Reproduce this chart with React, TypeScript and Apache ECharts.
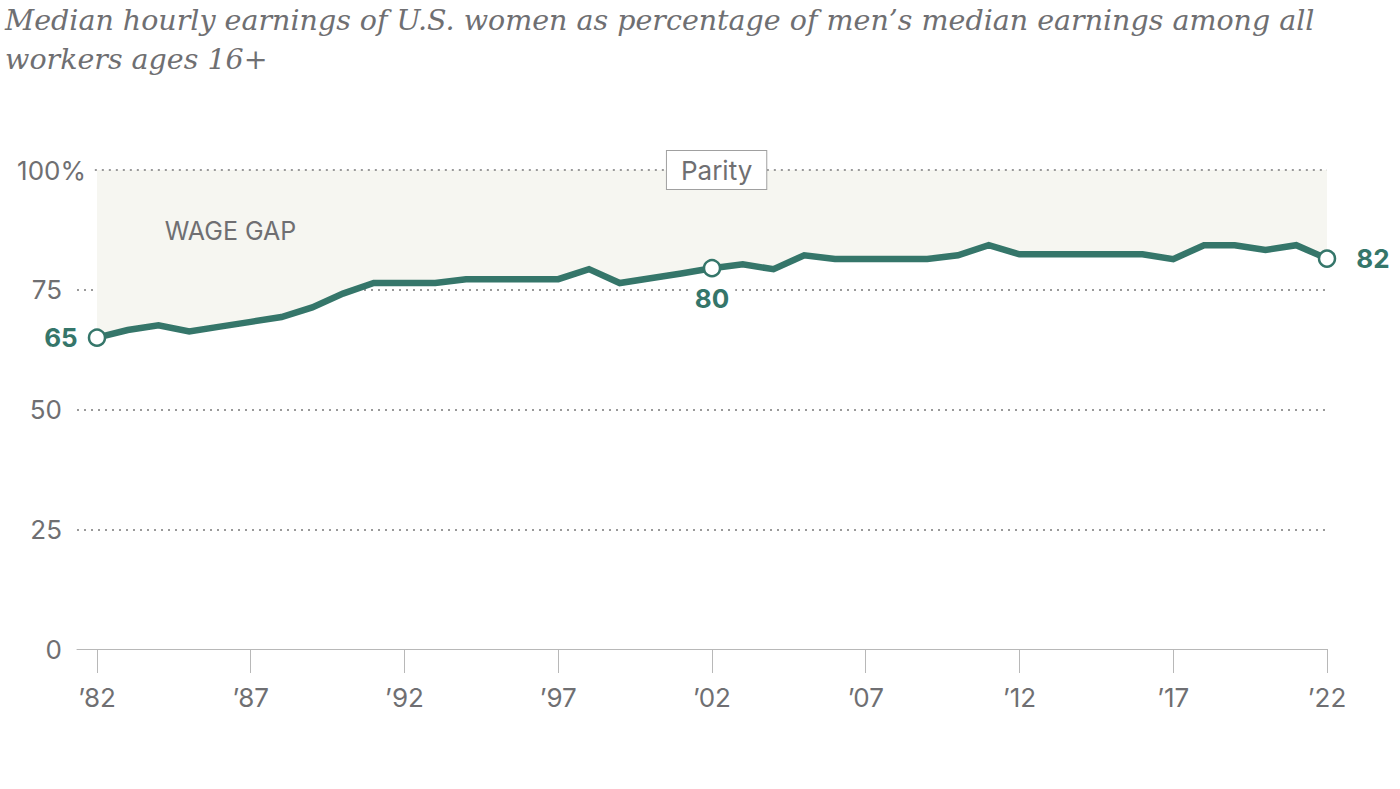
import React, { useEffect, useRef } from "react";
import * as echarts from "echarts";

const years = [
  1982, 1983, 1984, 1985, 1986, 1987, 1988, 1989, 1990, 1991, 1992, 1993, 1994, 1995,
  1996, 1997, 1998, 1999, 2000, 2001, 2002, 2003, 2004, 2005, 2006, 2007, 2008, 2009,
  2010, 2011, 2012, 2013, 2014, 2015, 2016, 2017, 2018, 2019, 2020, 2021, 2022,
];
const earningsRatio = [
  65, 66.6, 67.6, 66.3, 67.3, 68.3, 69.3, 71.3, 74.2, 76.4, 76.4, 76.4, 77.2, 77.2,
  77.2, 77.2, 79.3, 76.4, 77.4, 78.4, 79.5, 80.3, 79.3, 82.2, 81.4, 81.4, 81.4, 81.4,
  82.2, 84.3, 82.4, 82.4, 82.4, 82.4, 82.4, 81.4, 84.3, 84.3, 83.3, 84.3, 81.5,
];
const xTickYears = [1982, 1987, 1992, 1997, 2002, 2007, 2012, 2017, 2022];
const labeledYears = [1982, 2002, 2022];
const labelPositions = ["left", "bottom", "right"];
const parityValue = 100;
const titleLines = [
  "Median hourly earnings of U.S. women as percentage of men’s median earnings among all",
  "workers ages 16+",
];
const parityLabel = "Parity";
const gapLabel = "WAGE GAP";

const GREEN = "#35766a";
const GRAY_TEXT = "#6f6f72";
const DOT = "#9a9a9a";
const FONT = "Inter, Roboto, sans-serif";

export default function App() {
  const ref = useRef<HTMLDivElement>(null);
  useEffect(() => {
    if (!ref.current) return;
    const chart = echarts.init(ref.current, null, { renderer: "svg" });

    const lineData = years.map((y, i) => {
      const li = labeledYears.indexOf(y);
      if (li < 0) return [y, earningsRatio[i]];
      return {
        value: [y, earningsRatio[i]],
        symbol: "circle",
        symbolSize: 16,
        itemStyle: { color: "#fff", borderColor: GREEN, borderWidth: 2.5 },
        label: {
          show: true,
          position: labelPositions[li],
          distance: li === 2 ? 20 : li === 1 ? 8 : 10,
          formatter: () => String(Math.round(earningsRatio[i])),
          fontFamily: FONT,
          fontWeight: "bold",
          fontSize: 26,
          color: GREEN,
          backgroundColor: li === 1 ? "#fff" : "transparent",
          padding: li === 1 ? [0, 6] : 0,
        },
      };
    });

    chart.setOption({
      animation: false,
      grid: { left: 77, right: 73, top: 170, bottom: 140, containLabel: false },
      xAxis: {
        type: "value",
        min: 1981.35,
        max: 2022,
        splitLine: { show: false },
        axisLine: { show: true, lineStyle: { color: "#b8b8b8", width: 1 } },
        axisTick: {
          show: true,
          customValues: xTickYears,
          length: 24,
          lineStyle: { color: "#b8b8b8", width: 1 },
        },
        axisLabel: {
          customValues: xTickYears,
          formatter: (v: number) => "’" + String(v).slice(2),
          margin: 35,
          fontFamily: FONT,
          fontSize: 26,
          color: GRAY_TEXT,
        },
      },
      yAxis: {
        type: "value",
        min: 0,
        max: 100,
        interval: 25,
        axisLine: { show: false },
        axisTick: { show: false },
        splitLine: {
          show: true,
          lineStyle: {
            color: ["rgba(0,0,0,0)", DOT, DOT, DOT, "rgba(0,0,0,0)"],
            type: [2, 5],
            width: 2,
          },
        },
        axisLabel: {
          margin: -9,
          formatter: (v: number) => (v === 100 ? "100%" : `${v}{pad|}`),
          fontFamily: FONT,
          fontSize: 26,
          color: GRAY_TEXT,
          rich: { pad: { width: 24 } },
        },
      },
      series: [
        {
          name: "gap",
          type: "line",
          data: years.map((y, i) => [y, earningsRatio[i]]),
          symbol: "none",
          lineStyle: { width: 0, opacity: 0 },
          areaStyle: { origin: "end", color: "#f6f6f1", opacity: 1 },
          silent: true,
          z: 1,
          markLine: {
            silent: true,
            symbol: "none",
            label: { show: false },
            lineStyle: { type: [2, 5], color: DOT, width: 2 },
            data: [[{ coord: [years[0] - 0.07, parityValue] }, { coord: [years[years.length - 1], parityValue] }]],
          },
        },
        {
          name: "ratio",
          type: "line",
          data: lineData,
          symbol: "none",
          showSymbol: true,
          lineStyle: { width: 6.5, color: GREEN, join: "miter" },
          itemStyle: { color: GREEN },
          z: 5,
        },
      ],
    });

    const [px, py] = chart.convertToPixel({ gridIndex: 0 }, [2002.15, parityValue]) as number[];
    const [gx, gy] = chart.convertToPixel({ gridIndex: 0 }, [1984.2, 87.3]) as number[];
    chart.setOption({
      graphic: [
        {
          type: "text",
          left: 5,
          top: 1,
          z: 10,
          style: {
            text: titleLines.join("\n"),
            fontFamily: "'DejaVu Serif', serif",
            fontStyle: "italic",
            fontSize: 28.5,
            lineHeight: 39,
            fill: GRAY_TEXT,
          },
        },
        {
          type: "text",
          x: gx,
          y: gy,
          z: 10,
          style: {
            text: gapLabel,
            fontFamily: FONT,
            fontSize: 25,
            fill: GRAY_TEXT,
            verticalAlign: "middle",
          },
        },
        {
          type: "text",
          x: px,
          y: py,
          z: 10,
          style: {
            text: parityLabel,
            fontFamily: FONT,
            fontSize: 26,
            fill: GRAY_TEXT,
            align: "center",
            verticalAlign: "middle",
            backgroundColor: "#fff",
            borderColor: "#a0a0a0",
            borderWidth: 1,
            padding: [7, 14, 5, 14],
          },
        },
      ],
    });

    return () => chart.dispose();
  }, []);
  return (
    <div
      ref={ref}
      style={{ position: "absolute", left: 0, top: 0, width: 1400, height: 789, background: "#fff" }}
    />
  );
}
